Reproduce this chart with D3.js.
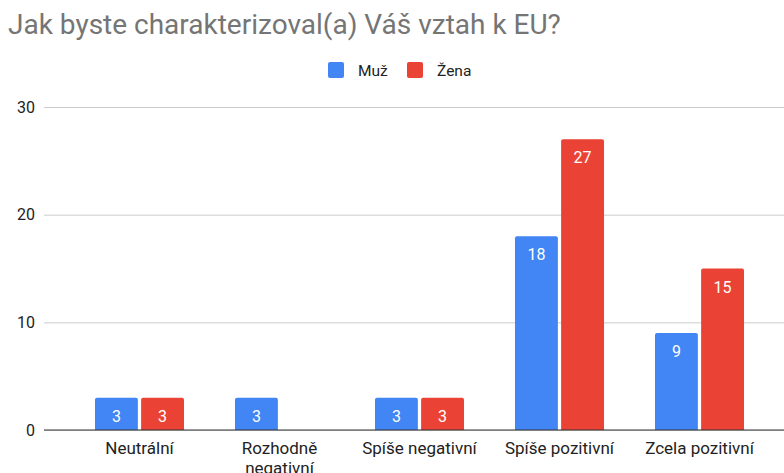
<!DOCTYPE html>
<html>
<head>
<meta charset="utf-8">
<script src="https://cdn.jsdelivr.net/npm/d3@7"></script>
<style>
  body { margin: 0; background: #fff; }
  text { font-family: Roboto, Arial, sans-serif; }
</style>
</head>
<body>
<script>
// chart values
const categories = ['Neutrální', 'Rozhodně negativní', 'Spíše negativní', 'Spíše pozitivní', 'Zcela pozitivní'];
const seriesNames = ['Muž', 'Žena'];
const muz = [3, 3, 3, 18, 9];
const zena = [3, 0, 3, 27, 15];
const yTicks = [0, 10, 20, 30];
const colors = ['#4285f4', '#ea4335'];

const width = 784, height = 473;
const plot = { left: 44, right: 784, top: 107, bottom: 430 };

const svg = d3.select('body').append('svg')
    .attr('width', width)
    .attr('height', height);

const rows = categories.map((c, i) => ({ cat: c, values: [muz[i], zena[i]] }));

const x = d3.scaleBand()
    .domain(categories)
    .range([69.5, 769.5])
    .paddingInner(0.364)
    .paddingOuter(0.182);

const xSub = d3.scaleBand()
    .domain(seriesNames)
    .range([0, x.bandwidth()])
    .paddingInner(0.07);

const y = d3.scaleLinear()
    .domain([0, 30])
    .range([plot.bottom, plot.top]);

// title
svg.append('text')
    .attr('x', 8)
    .attr('y', 34)
    .attr('fill', '#757575')
    .style('font-size', '28px')
    .text('Jak byste charakterizoval(a) Váš vztah k EU?');

// legend
const legend = svg.append('g');
const legendItems = [{ name: 'Muž', x: 328 }, { name: 'Žena', x: 407 }];
legendItems.forEach((d, i) => {
    legend.append('rect')
        .attr('x', d.x).attr('y', 62)
        .attr('width', 16).attr('height', 16)
        .attr('rx', 2)
        .attr('fill', colors[i]);
    legend.append('text')
        .attr('x', d.x + 30).attr('y', 76)
        .attr('fill', '#222')
        .style('font-size', '15.5px')
        .text(d.name);
});

// gridlines and y labels
const yAxis = d3.axisLeft(y)
    .tickValues(yTicks)
    .tickSize(-(plot.right - plot.left))
    .tickPadding(9);

svg.append('g')
    .attr('transform', `translate(${plot.left},0)`)
    .call(yAxis)
    .call(g => g.select('.domain').remove())
    .call(g => g.selectAll('.tick line').attr('stroke', '#cccccc'))
    .call(g => g.selectAll('.tick text')
        .attr('fill', '#222')
        .style('font-size', '16px')
        .style('font-family', 'Roboto, Arial, sans-serif'));

// bars
const barPath = (x0, y0, w, h, r) => {
    r = Math.min(r, h);
    return `M${x0},${y0 + h} V${y0 + r} Q${x0},${y0} ${x0 + r},${y0} H${x0 + w - r} Q${x0 + w},${y0} ${x0 + w},${y0 + r} V${y0 + h} Z`;
};

const groups = svg.append('g')
    .selectAll('g')
    .data(rows)
    .join('g')
    .attr('transform', d => `translate(${x(d.cat)},0)`);

groups.selectAll('path')
    .data(d => d.values.map((v, i) => ({ v, i })).filter(e => e.v > 0))
    .join('path')
    .attr('fill', e => colors[e.i])
    .attr('d', e => barPath(xSub(seriesNames[e.i]), y(e.v), xSub.bandwidth(), y(0) - y(e.v), 2));

groups.selectAll('text')
    .data(d => d.values.map((v, i) => ({ v, i })).filter(e => e.v > 0))
    .join('text')
    .attr('x', e => xSub(seriesNames[e.i]) + xSub.bandwidth() / 2)
    .attr('y', e => y(e.v) + 24)
    .attr('text-anchor', 'middle')
    .attr('fill', '#fff')
    .style('font-size', '16px')
    .text(e => e.v);

// baseline
svg.append('line')
    .attr('x1', plot.left).attr('x2', plot.right)
    .attr('y1', y(0)).attr('y2', y(0))
    .attr('stroke', '#333')
    .attr('stroke-width', 1);

// category labels
categories.forEach(c => {
    const words = c === 'Rozhodně negativní' ? ['Rozhodně', 'negativní'] : [c];
    const t = svg.append('text')
        .attr('x', x(c) + x.bandwidth() / 2)
        .attr('y', 454)
        .attr('text-anchor', 'middle')
        .attr('fill', '#222')
        .style('font-size', '17px');
    words.forEach((w, k) => {
        t.append('tspan')
            .attr('x', x(c) + x.bandwidth() / 2)
            .attr('dy', k === 0 ? 0 : 20)
            .text(w);
    });
});
</script>
</body>
</html>
